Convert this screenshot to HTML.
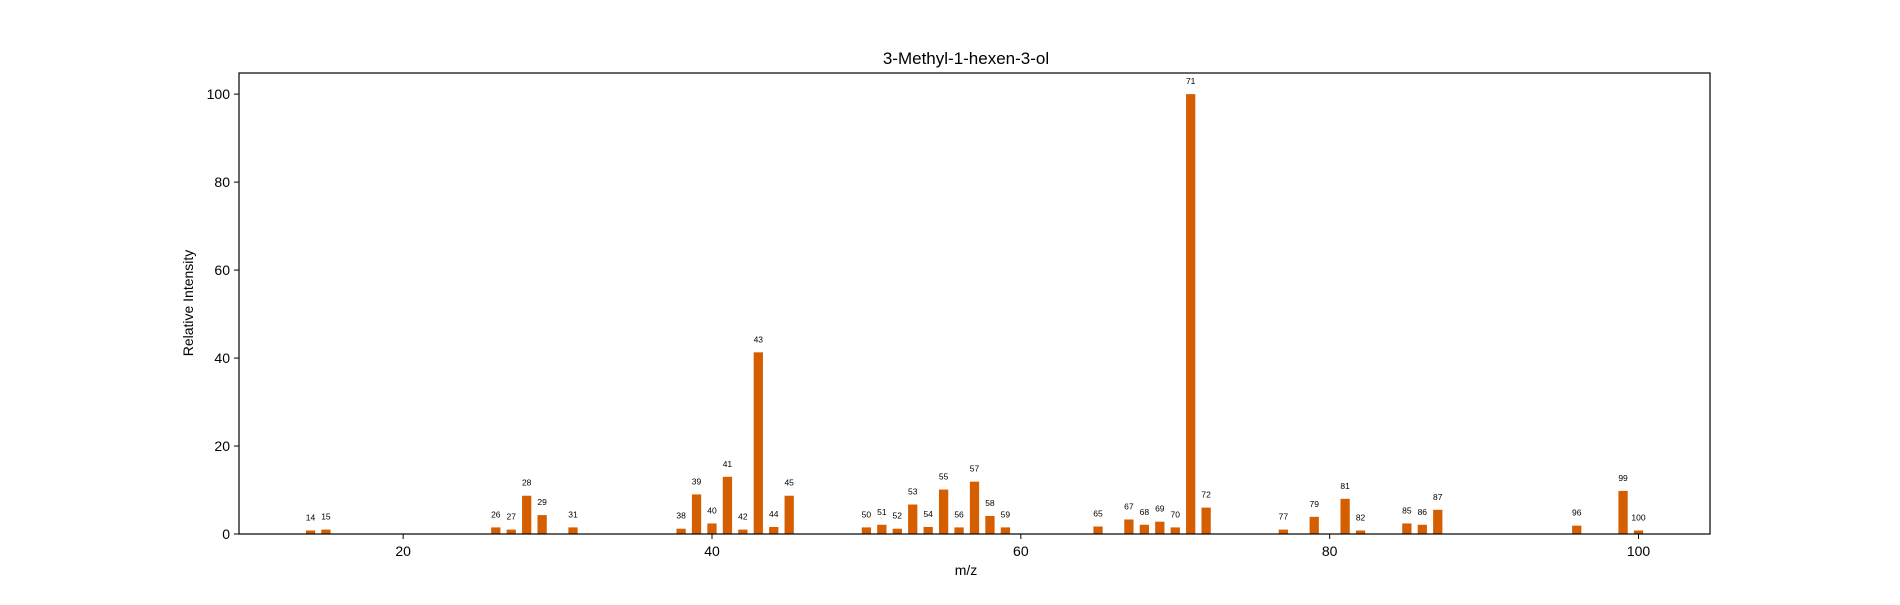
<!DOCTYPE html>
<html><head><meta charset="utf-8"><style>
body{margin:0;background:#fff}
svg text{font-family:"Liberation Sans","DejaVu Sans",sans-serif;fill:#000}
</style></head><body>
<svg id="chart" width="1900" height="600" xmlns="http://www.w3.org/2000/svg">
<rect width="1900" height="600" fill="#fff"/>
<text x="966" y="64" font-size="17" text-anchor="middle">3-Methyl-1-hexen-3-ol</text>
<g id="bars"></g>
<g id="axes"></g>
<text x="966" y="575" font-size="14" text-anchor="middle">m/z</text>
<text transform="translate(193,303) rotate(-90)" font-size="14" text-anchor="middle">Relative Intensity</text>
</svg>
<script>
const mzValues=[14,15,26,27,28,29,31,38,39,40,41,42,43,44,45,50,51,52,53,54,55,56,57,58,59,65,67,68,69,70,71,72,77,79,81,82,85,86,87,96,99,100];
const intensities=[0.8,1.0,1.5,1.0,8.7,4.3,1.5,1.2,9.0,2.4,13,1.0,41.3,1.6,8.7,1.5,2.1,1.2,6.7,1.6,10.1,1.5,11.9,4.1,1.5,1.7,3.3,2.1,2.8,1.5,100,6.0,1.0,3.9,8.0,0.8,2.4,2.1,5.5,1.9,9.8,0.8];
const xTicks=[20,40,60,80,100];
const yTicks=[0,20,40,60,80,100];
const NS="http://www.w3.org/2000/svg";
const L=239,R=1710,T=73,B=534,xmin=9.37,xmax=104.63,ymax=104.8;
const xs=v=>L+(v-xmin)/(xmax-xmin)*(R-L);
const ys=v=>B-v/ymax*(B-T);
const bars=document.getElementById('bars'),axes=document.getElementById('axes');
function mk(tag,at,parent){const e=document.createElementNS(NS,tag);for(const k in at)e.setAttribute(k,at[k]);parent.appendChild(e);return e;}
mzValues.forEach((m,i)=>{
 const v=intensities[i];const w=xs(0.6)-xs(0);
 const r=mk('rect',{x:xs(m)-w/2,y:ys(v),width:w,height:B-ys(v),fill:'#d55e00'},bars);
 
 
 const t=mk('text',{x:xs(m),y:ys(v)-10,'font-size':'8.5','text-anchor':'middle'},bars);
 t.textContent=m;
 
 
});
const frame=mk('rect',{x:L,y:T,width:R-L,height:B-T,fill:'none',stroke:'#000','stroke-width':1.2},axes);


xTicks.forEach(v=>{
 mk('line',{x1:xs(v),x2:xs(v),y1:B,y2:B+5,stroke:'#000'},axes);
 const t=mk('text',{x:xs(v),y:B+22,'font-size':'14','text-anchor':'middle'},axes);
 t.textContent=v;
 
 
});
yTicks.forEach(v=>{
 mk('line',{x1:L-5,x2:L,y1:ys(v),y2:ys(v),stroke:'#000'},axes);
 const t=mk('text',{x:L-9,y:ys(v)+5,'font-size':'14','text-anchor':'end'},axes);
 t.textContent=v;
 
 
});
</script>
</body></html>
